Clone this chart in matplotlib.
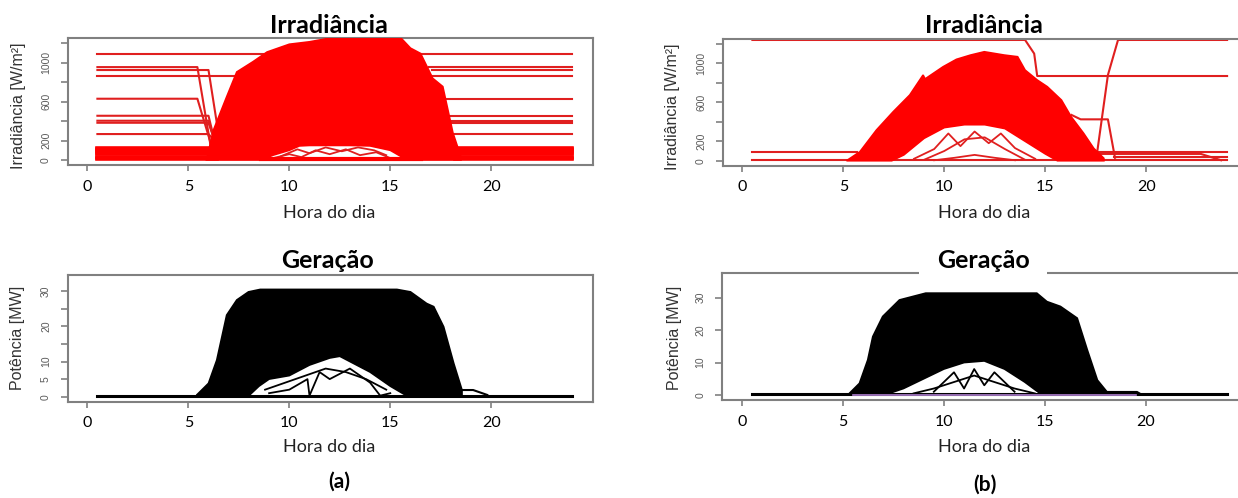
import matplotlib
matplotlib.use("Agg")
import matplotlib.pyplot as plt

# ------------------------------------------------------------------ data
hour_ticks = [0, 5, 10, 15, 20]
irr_ticks = [0, 200, 400, 600, 800, 1000, 1200]
irr_ticklabels = ["0", "200", "", "600", "", "1000", ""]
gen_a_ticks = [0, 5, 10, 15, 20, 25, 30]
gen_a_ticklabels = ["0", "5", "10", "", "20", "", "30"]
gen_b_ticks = [0, 10, 20, 30]
gen_b_ticklabels = ["0", "10", "20", "30"]

# (a) irradiance - stuck night-time levels
irr_a_const_levels = [1086, 863]
irr_a_left_levels = [955, 925, 630, 455, 404, 383, 267]
irr_a_left_end = [5.45, 6.0, 5.45, 6.0, 6.0, 6.0, 6.0]
irr_a_drop_x = [6.1, 6.45, 6.1, 6.3, 6.3, 6.3, 6.3]
irr_a_drop_y = [150, 330, 180, 200, 200, 200, 200]
irr_a_right_levels = [960, 925, 630, 455, 404, 383, 267]
irr_a_right_start = [16.9, 17.05, 17.8, 17.95, 18.0, 18.0, 18.05]
irr_a_band_levels = [125, 112, 100, 88, 75, 62, 30, 18, 6]
# (a) irradiance - envelope of the daily curves
irr_a_upper_x = [5.9, 6.25, 6.9, 7.4, 8.2, 8.9, 10.0, 11.0, 12.2, 15.5, 16.0, 16.5, 17.1, 17.6, 18.1, 18.5]
irr_a_upper_y = [0, 310, 650, 905, 1010, 1110, 1190, 1215, 1260, 1260, 1150, 1095, 840, 755, 280, 30]
irr_a_lower_x = [18.5, 16.5, 15.5, 15.0, 14.0, 13.0, 11.0, 10.5, 10.0, 9.2, 8.6, 5.9]
irr_a_lower_y = [0, 0, 40, 100, 145, 150, 150, 145, 100, 50, 0, 0]
irr_a_arc1_x = [9.2, 10.0, 10.6, 11.3, 12.0, 12.8, 13.5, 14.3, 15.0]
irr_a_arc1_y = [20, 60, 30, 100, 60, 110, 50, 80, 20]
irr_a_arc2_x = [9.6, 10.4, 11.0, 11.8, 12.6, 13.4, 14.2, 14.8]
irr_a_arc2_y = [40, 110, 70, 130, 90, 130, 100, 50]
irr_a_floor_x = [8.6, 16.5]
irr_a_floor_y = [8, 8]

# (b) irradiance - individual lines
irr_b_top_x = [0.5, 14.0, 14.45, 14.6, 24.0]
irr_b_top_y = [1240, 1240, 1100, 870, 870]
irr_b_rise_x = [17.55, 18.1, 18.6, 24.0]
irr_b_rise_y = [60, 880, 1240, 1240]
irr_b_mid_x = [16.3, 16.75, 18.1, 18.45]
irr_b_mid_y = [470, 425, 425, 30]
irr_b_lowl_x = [0.5, 5.7]
irr_b_lowl_y = [88, 88]
irr_b_lowr_x = [17.6, 22.7, 24.0]
irr_b_lowr_y = [86, 86, 86]
irr_b_low2_x = [17.7, 22.7, 23.7]
irr_b_low2_y = [70, 70, 5]
irr_b_40_x = [18.4, 24.0]
irr_b_40_y = [40, 40]
irr_b_zero_x = [0.5, 24.0]
irr_b_zero_y = [5, 5]
# (b) irradiance - envelope
irr_b_upper_x = [5.16, 5.82, 6.64, 7.47, 8.29, 8.95, 9.05, 9.94, 10.6, 11.3, 11.98, 12.97, 13.63,
                 14.0, 14.6, 15.1, 15.8, 16.28, 16.9, 17.4, 17.9]
irr_b_upper_y = [0, 92, 315, 503, 675, 880, 840, 965, 1041, 1085, 1119, 1085, 1068,
                 931, 829, 760, 623, 452, 281, 127, 25]
irr_b_lower_x = [17.9, 15.6, 15.0, 14.0, 13.0, 12.0, 11.0, 10.0, 9.0, 8.0, 7.4, 5.16]
irr_b_lower_y = [0, 0, 70, 200, 330, 370, 370, 340, 230, 60, 0, 0]
irr_b_arc1_x = [8.5, 9.5, 10.2, 10.8, 11.5, 12.2, 12.8, 13.5, 14.5]
irr_b_arc1_y = [20, 120, 280, 150, 300, 180, 280, 130, 20]
irr_b_arc2_x = [9.0, 10.0, 11.0, 12.0, 13.0, 14.0]
irr_b_arc2_y = [10, 100, 220, 240, 120, 10]
irr_b_arc3_x = [9.5, 10.5, 11.5, 12.5, 13.5]
irr_b_arc3_y = [5, 30, 60, 30, 5]

# (a) generation
gen_a_base_x = [0.5, 24.0]
gen_a_base_y = [0.3, 0.3]
gen_a_upper_x = [5.42, 6.0, 6.41, 6.9, 7.4, 7.98, 8.56, 15.33, 16.0, 16.8, 17.15, 17.64, 18.14, 18.55]
gen_a_upper_y = [0.5, 3.8, 10.4, 23.2, 27.5, 29.8, 30.5, 30.5, 29.8, 26.5, 25.6, 19.9, 9.5, 1.9]
gen_a_lower_x = [18.55, 15.8, 15.0, 14.0, 13.0, 12.5, 12.0, 11.0, 10.0, 9.0, 8.5, 8.0, 5.42]
gen_a_lower_y = [0.3, 0.3, 3, 7, 10, 11.5, 11, 9, 6, 5, 3, 0.3, 0.3]
gen_a_bump_x = [18.55, 19.1, 19.8]
gen_a_bump_y = [1.9, 1.9, 0.5]
gen_a_arc1_x = [9.0, 10.0, 10.9, 11.0, 11.5, 12.0, 13.0, 13.5, 14.0, 14.5, 15.0]
gen_a_arc1_y = [1, 2, 5, 0.3, 7, 5, 8, 6, 4, 0.3, 1]
gen_a_arc2_x = [8.8, 9.8, 10.8, 11.8, 12.8, 13.8, 14.8]
gen_a_arc2_y = [2, 4, 6, 8, 7, 5, 2]

# (b) generation
gen_b_base_x = [0.5, 24.0]
gen_b_base_y = [0.3, 0.3]
gen_b_purple_x = [5.5, 19.5]
gen_b_purple_y = [0.0, 0.0]
gen_b_upper_x = [5.32, 5.82, 6.23, 6.48, 6.97, 7.8, 9.1, 14.6, 15.1, 15.77, 16.6, 17.1, 17.6, 18.07, 19.56, 19.7]
gen_b_upper_y = [0.5, 3.6, 10.8, 18, 24.2, 29.3, 31.4, 31.4, 28.8, 27.3, 23.7, 13.9, 4.6, 1.0, 1.0, 0.5]
gen_b_lower_x = [19.7, 14.8, 14.0, 13.0, 12.0, 11.0, 10.0, 9.0, 8.0, 7.2, 5.32]
gen_b_lower_y = [0.3, 0.3, 4, 8, 10.5, 10, 8, 5, 2, 0.3, 0.3]
gen_b_arc1_x = [9.5, 10.5, 11.0, 11.5, 12.0, 12.5, 13.5]
gen_b_arc1_y = [1, 7, 2, 8, 3, 7, 1]
gen_b_arc2_x = [8.5, 9.5, 10.5, 11.5, 12.5, 13.5, 14.5]
gen_b_arc2_y = [0.5, 2, 4, 6, 4, 2, 0.5]

# ------------------------------------------------------------------ style
W, H = 1238, 498
RED = "#ff0000"
RED_LINE = "#e01f1f"
GRAY = "#808080"
SANS = ["Liberation Sans", "DejaVu Sans"]
CAL = ["Lato", "DejaVu Sans"]

fig = plt.figure(figsize=(W / 100, H / 100), dpi=100)
fig.patch.set_facecolor("white")


def fx(x):
    return x / W


def fy(y):
    return 1 - y / H


def make_axes(left, top, right, bottom, ylim, yticks, ylabels):
    ax = fig.add_axes([fx(left), fy(bottom), (right - left) / W, (bottom - top) / H])
    ax.set_xlim(-0.97, 25.02)
    ax.set_ylim(*ylim)
    for s in ax.spines.values():
        s.set_color(GRAY)
        s.set_linewidth(1.5)
    ax.set_xticks(hour_ticks)
    ax.set_xticklabels([str(t) for t in hour_ticks], family=CAL, fontsize=11.5)
    ax.set_yticks(yticks)
    ax.set_yticklabels(ylabels, family=SANS, fontsize=7.5, color="#5a5a5a",
                       rotation=90, va="center")
    ax.tick_params(axis="x", length=4.5, width=1.2, color=GRAY, pad=6)
    ax.tick_params(axis="y", length=5, width=1.2, color=GRAY, pad=7)
    return ax


def blob(ax, ux, uy, lx, ly, color):
    ax.fill(list(ux) + list(lx), list(uy) + list(ly), color=color, lw=1.2,
            edgecolor=color, zorder=3)


# ---------------- (a) irradiance
ax1 = make_axes(67.7, 38.3, 592.7, 165, (-51, 1251), irr_ticks, irr_ticklabels)
for lv in irr_a_const_levels:
    ax1.plot([0.5, 24.0], [lv, lv], color=RED_LINE, lw=1.5, zorder=2)
for lv, xe, dx, dy in zip(irr_a_left_levels, irr_a_left_end, irr_a_drop_x, irr_a_drop_y):
    ax1.plot([0.5, xe, dx], [lv, lv, dy], color=RED_LINE, lw=1.5, zorder=2)
for lv, xs in zip(irr_a_right_levels, irr_a_right_start):
    ax1.plot([xs, 24.0], [lv, lv], color=RED_LINE, lw=1.5, zorder=2)
for lv in irr_a_band_levels:
    ax1.plot([0.5, 6.4], [lv, lv], color=RED, lw=2.6, zorder=2)
    ax1.plot([18.2, 24.0], [lv, lv], color=RED, lw=2.6, zorder=2)
blob(ax1, irr_a_upper_x, irr_a_upper_y, irr_a_lower_x, irr_a_lower_y, RED)
for xs, ys in [(irr_a_arc1_x, irr_a_arc1_y), (irr_a_arc2_x, irr_a_arc2_y)]:
    ax1.plot(xs, ys, color=RED_LINE, lw=1.3, zorder=3)
ax1.plot(irr_a_floor_x, irr_a_floor_y, color=RED, lw=3, zorder=3)

# ---------------- (b) irradiance
ax2 = make_axes(722.7, 39, 1247.7, 165.7, (-51, 1250), irr_ticks, irr_ticklabels)
for xs, ys in [(irr_b_top_x, irr_b_top_y), (irr_b_rise_x, irr_b_rise_y),
               (irr_b_mid_x, irr_b_mid_y), (irr_b_lowl_x, irr_b_lowl_y),
               (irr_b_lowr_x, irr_b_lowr_y), (irr_b_low2_x, irr_b_low2_y),
               (irr_b_40_x, irr_b_40_y), (irr_b_zero_x, irr_b_zero_y)]:
    ax2.plot(xs, ys, color=RED_LINE, lw=1.5, zorder=2)
blob(ax2, irr_b_upper_x, irr_b_upper_y, irr_b_lower_x, irr_b_lower_y, RED)
for xs, ys in [(irr_b_arc1_x, irr_b_arc1_y), (irr_b_arc2_x, irr_b_arc2_y),
               (irr_b_arc3_x, irr_b_arc3_y)]:
    ax2.plot(xs, ys, color=RED_LINE, lw=1.3, zorder=3)

# ---------------- (a) generation
ax3 = make_axes(67.7, 275, 592.7, 401.7, (-1.42, 34.6), gen_a_ticks, gen_a_ticklabels)
blob(ax3, gen_a_upper_x, gen_a_upper_y, gen_a_lower_x, gen_a_lower_y, "black")
ax3.plot(gen_a_bump_x, gen_a_bump_y, color="black", lw=1.5, zorder=3)
for xs, ys in [(gen_a_arc1_x, gen_a_arc1_y), (gen_a_arc2_x, gen_a_arc2_y)]:
    ax3.plot(xs, ys, color="black", lw=1.3, zorder=3)
ax3.plot(gen_a_base_x, gen_a_base_y, color="black", lw=2.2, zorder=4)

# ---------------- (b) generation
ax4 = make_axes(722.3, 272.7, 1247.3, 400, (-1.54, 37.7), gen_b_ticks, gen_b_ticklabels)
blob(ax4, gen_b_upper_x, gen_b_upper_y, gen_b_lower_x, gen_b_lower_y, "black")
for xs, ys in [(gen_b_arc1_x, gen_b_arc1_y), (gen_b_arc2_x, gen_b_arc2_y)]:
    ax4.plot(xs, ys, color="black", lw=1.3, zorder=3)
ax4.plot(gen_b_base_x, gen_b_base_y, color="black", lw=2.2, zorder=4)
ax4.plot(gen_b_purple_x, gen_b_purple_y, color="#b080d0", lw=1.2, zorder=5)

# ---------------- texts
title_kw = dict(family=CAL, fontsize=18, fontweight="bold", ha="center", va="baseline")
fig.text(fx(329), fy(33), "Irradiância", **title_kw)
fig.text(fx(984), fy(33), "Irradiância", **title_kw)
fig.text(fx(328), fy(268), "Geração", **title_kw)
fig.text(fx(983), fy(268), "Geração",
         bbox=dict(facecolor="white", edgecolor="none", boxstyle="square,pad=0.7"),
         **title_kw)

xl_kw = dict(family=CAL, fontsize=13, ha="center", va="baseline", color="#222222")
fig.text(fx(329), fy(218), "Hora do dia", **xl_kw)
fig.text(fx(984), fy(218), "Hora do dia", **xl_kw)
fig.text(fx(329), fy(452), "Hora do dia", **xl_kw)
fig.text(fx(984), fy(452), "Hora do dia", **xl_kw)

yl_kw = dict(family=SANS, fontsize=11.5, rotation=90, ha="center", va="center", color="#333333")
fig.text(fx(19), fy(106), "Irradiância [W/m²]", **yl_kw)
fig.text(fx(672), fy(106.5), "Irradiância [W/m²]", **yl_kw)
fig.text(fx(18), fy(337.5), "Potência [MW]", **yl_kw)
fig.text(fx(674), fy(337.5), "Potência [MW]", **yl_kw)

lab_kw = dict(family=CAL, fontsize=15, fontweight="bold", ha="center", va="baseline")
fig.text(fx(339), fy(488), "(a)", **lab_kw)
fig.text(fx(985), fy(491), "(b)", **lab_kw)

fig.savefig("out.png", dpi=100, facecolor="white")
